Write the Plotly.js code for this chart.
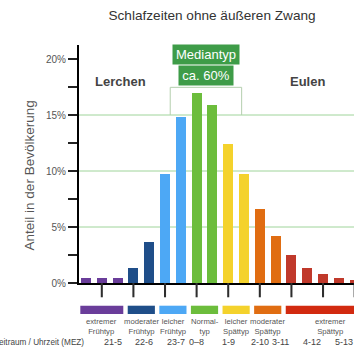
<!DOCTYPE html>
<html>
<head>
<meta charset="utf-8">
<script src="https://cdn.plot.ly/plotly-3.0.1.min.js"></script>
<style>html,body{margin:0;padding:0;background:#fff;}#chart{width:354px;height:354px;}</style>
</head>
<body>
<div id="chart"></div>
<script>
// ---- data ----
const shares = [0.45, 0.45, 0.45, 1.3, 3.7, 9.7, 14.8, 17.0, 15.9, 12.4, 9.7, 6.6, 4.2, 2.5, 1.3, 0.8, 0.45, 0.25];
const timeLabels = ['21-5', '22-6', '23-7', '0–8', '1-9', '2-10', '3-11', '4-12', '5-13'];
const groupNames = ['extremer<br>Frühtyp', 'moderater<br>Frühtyp', 'leicher<br>Frühtyp', 'Normal-<br>typ', 'leicher<br>Spättyp', 'moderater<br>Spättyp', 'extremer<br>Spättyp'];
const groupStart = [0, 3, 5, 7, 9, 11, 13];
const groupEnd = [2, 4, 6, 8, 10, 12, 18];
const groupColors = ['#6a3d9a', '#1f4e89', '#4da8f5', '#6cbd3c', '#f4d22c', '#e06d12', '#c0392b'];
const legendColors = ['#6a3d9a', '#1f4e89', '#4da8f5', '#6cbd3c', '#f4d22c', '#e06d12', '#d22a10'];
const yTickVals = [0, 5, 10, 15, 20];
const yTickText = ['0%', '5%', '10%', '15%', '20%'];

const FONT = 'Liberation Sans, Arial, Helvetica, sans-serif';
const X_RANGE = [-0.443, 16.96];
const toPaperX = v => (v - X_RANGE[0]) / (X_RANGE[1] - X_RANGE[0]);

const xs = shares.map((_, i) => i);
const barColors = shares.map((_, i) => {
  for (let g = 0; g < groupStart.length; g++) if (i >= groupStart[g] && i <= groupEnd[g]) return groupColors[g];
  return groupColors[groupColors.length - 1];
});

const trace = {
  type: 'bar', x: xs, y: shares, width: 0.63,
  marker: {color: barColors, line: {width: 0}},
  hoverinfo: 'skip', showlegend: false
};

const shapes = [];
[5, 10, 15].forEach(v => shapes.push({type: 'line', xref: 'paper', yref: 'y', x0: 0, x1: 1, y0: v, y1: v, line: {color: '#9fd49a', width: 1}, layer: 'below'}));
// median bracket
shapes.push({type: 'path', xref: 'x', yref: 'y', path: 'M 5.33 15 L 5.33 17.47 L 9.85 17.47 L 9.85 15', line: {color: '#b4cfae', width: 1}});
// colour legend strip
groupStart.forEach((s, g) => {
  shapes.push({type: 'rect', xref: 'x', yref: 'paper', x0: s - 0.36, x1: groupEnd[g] + 0.36, y0: -0.0954, y1: -0.1303, fillcolor: legendColors[g], line: {width: 0}});
});
// x ticks below the axis
timeLabels.forEach((_, i) => {
  const c = 2 * i + 1;
  shapes.push({type: 'rect', xref: 'x', yref: 'paper', x0: c - 0.065, x1: c + 0.065, y0: 0, y1: -0.06, fillcolor: '#2e2e2e', line: {width: 0}});
});

const annotations = [];
groupNames.forEach((n, g) => {
  annotations.push({xref: 'paper', yref: 'paper', x: toPaperX((groupStart[g] + groupEnd[g]) / 2), y: -0.133, yanchor: 'top', xanchor: 'center', text: n, showarrow: false, font: {family: FONT, size: 7.7, color: '#555'}});
});
timeLabels.forEach((t, i) => {
  annotations.push({xref: 'paper', yref: 'paper', x: toPaperX(2 * i + 1), y: -0.248, yanchor: 'middle', text: t, showarrow: false, font: {family: FONT, size: 9, color: '#444'}});
});
annotations.push({xref: 'paper', yref: 'paper', x: 0.0255, xanchor: 'right', y: -0.248, yanchor: 'middle', text: 'Zeitraum / Uhrzeit (MEZ)', showarrow: false, font: {family: FONT, size: 8.2, color: '#444'}});
annotations.push({xref: 'x', yref: 'y', x: 2.2, y: 18.0, text: '<b>Lerchen</b>', showarrow: false, font: {family: FONT, size: 13, color: '#444'}});
annotations.push({xref: 'x', yref: 'y', x: 14.0, y: 18.0, text: '<b>Eulen</b>', showarrow: false, font: {family: FONT, size: 13, color: '#444'}});
annotations.push({xref: 'x', yref: 'y', x: 7.6, y: 20.4, text: 'Mediantyp', showarrow: false, bgcolor: '#3e9c48', width: 62, height: 15, borderpad: 2, font: {family: FONT, size: 13, color: '#fff'}});
annotations.push({xref: 'x', yref: 'y', x: 7.6, y: 18.56, text: 'ca. 60%', showarrow: false, bgcolor: '#3e9c48', width: 50, height: 15, borderpad: 2, font: {family: FONT, size: 13, color: '#fff'}});
annotations.push({xref: 'paper', yref: 'paper', x: -0.2145, y: 0.45, textangle: -90, text: 'Anteil in der Bevölkerung', showarrow: false, font: {family: FONT, size: 13.5, color: '#555'}});

const layout = {
  width: 354, height: 354,
  margin: {l: 79, r: 0, t: 45, b: 71, pad: 0},
  paper_bgcolor: '#fff', plot_bgcolor: '#fff',
  title: {text: 'Schlafzeiten ohne äußeren Zwang', xref: 'container', yref: 'container', x: 0.599, xanchor: 'center', y: 0.958, yanchor: 'middle', font: {family: FONT, size: 13.6, color: '#333'}},
  xaxis: {range: X_RANGE, showticklabels: false, ticks: '', showline: true, linecolor: '#000', linewidth: 2, showgrid: false, zeroline: false, fixedrange: true},
  yaxis: {range: [0, 21.25], tickvals: yTickVals, ticktext: yTickText, ticks: 'outside', ticklen: 9, tickwidth: 1.5, tickcolor: '#222', minor: {dtick: 2.5, tick0: 0, ticks: 'outside', ticklen: 9, tickwidth: 1.5, tickcolor: '#222', showgrid: false}, showline: true, linecolor: '#000', linewidth: 2, showgrid: false, zeroline: false, tickfont: {family: FONT, size: 10, color: '#555'}, fixedrange: true},
  shapes: shapes, annotations: annotations, bargap: 0, showlegend: false
};

Plotly.newPlot('chart', [trace], layout, {displayModeBar: false, staticPlot: true});
</script>
</body>
</html>
